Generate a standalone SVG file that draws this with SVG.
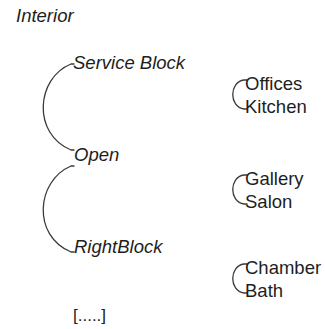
<svg xmlns="http://www.w3.org/2000/svg" width="325" height="329" viewBox="0 0 325 329">
  <style>
    .bg { fill: #ffffff; }
    .lbl { font-family: "Liberation Sans", Arial, sans-serif; font-size: 18.5px; fill: #1e1e1e; }
    .it { font-style: italic; }
    .link { fill: none; stroke: #3a3a3a; stroke-width: 1.3; stroke-linecap: round; }
  </style>
  <rect class="bg" x="0" y="0" width="325" height="329"/>

  <!-- connectors -->
  <g id="connectors">
    <path class="link" d="M74,64 L71,64 C36,78 32,134 71,150 L74,150"/>
    <path class="link" d="M74,166 L71,166 C36,181 32,236 71,252 L74,252"/>
    <path class="link" d="M247,80 L244,80 C229,82 229,107 244,109 L247,109"/>
    <path class="link" d="M247,175 L244,175 C229,177 229,202 244,204 L247,204"/>
    <path class="link" d="M247,264 L244,264 C229,266 229,291 244,293 L247,293"/>
  </g>

  <g id="interior"><text class="lbl it" x="16" y="22">Interior</text></g>
  <g id="service-block"><text class="lbl it" x="73" y="69">Service Block</text></g>
  <g id="open"><text class="lbl it" x="74" y="161">Open</text></g>
  <g id="right-block"><text class="lbl it" x="74" y="253">RightBlock</text></g>
  <g id="more"><text class="lbl" x="73" y="321" style="font-size:17px">[.....]</text></g>

  <g id="group-service">
    <text class="lbl" x="245" y="90">Offices</text>
    <text class="lbl" x="245" y="113">Kitchen</text>
  </g>
  <g id="group-open">
    <text class="lbl" x="245" y="185">Gallery</text>
    <text class="lbl" x="245" y="208">Salon</text>
  </g>
  <g id="group-right">
    <text class="lbl" x="245" y="274">Chamber</text>
    <text class="lbl" x="245" y="297">Bath</text>
  </g>
</svg>
